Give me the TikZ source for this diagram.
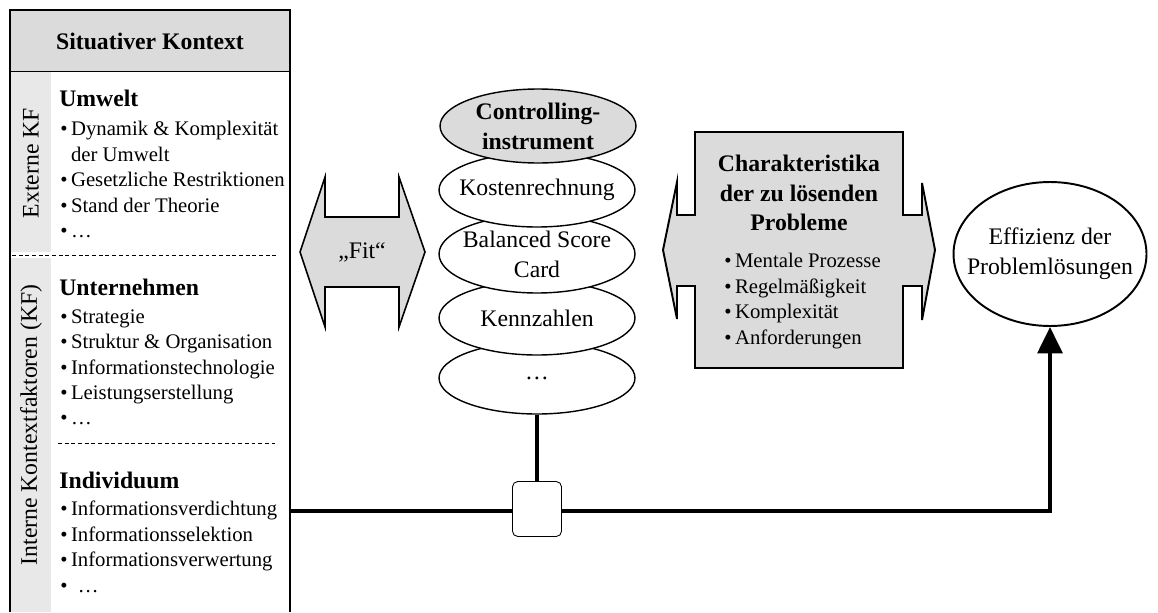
\documentclass[tikz,border=0pt]{standalone}
\usepackage{fontspec}
\setmainfont{Liberation Serif}
\usetikzlibrary{positioning,shapes.geometric,arrows.meta}
\definecolor{boxgray}{RGB}{219,219,219}
\definecolor{stripgray}{RGB}{232,232,232}
\newcommand{\bigtxt}{\fontsize{13.5}{17}\selectfont}
\newcommand{\smalltxt}{\fontsize{11.8}{14.5}\selectfont}
\newcommand{\pkt}{\textbullet\,}
\tikzset{
 head/.style={font=\bigtxt\bfseries,inner sep=0pt,anchor=west},
 itemlist/.style={font=\smalltxt,align=left,inner sep=0pt,anchor=north west},
 instr/.style={ellipse,draw,fill=white,line width=0.8pt,minimum width=3.92cm,minimum height=1.48cm,font=\bigtxt,align=center,inner ysep=0pt,inner xsep=-8pt},
 heavy/.style={line width=2.4pt},
}
\begin{document}
\begin{tikzpicture}[x=0.02cm,y=-0.02cm]
\useasboundingbox (0,0) rectangle (1158,612);
%left panel
\fill[stripgray](10,71) rectangle (51,252);
\fill[stripgray](10,258) rectangle (51,612);
\fill[boxgray](10,10) rectangle (290,71);
\draw(10,71)--(290,71);
\draw[line width=0.8pt](10,612)--(10,10)--(290,10);
\draw[line width=1.7pt](290,9.3)--(290,612);
\draw[dashed,dash pattern=on 2.2pt off 1.6pt](12,255)--(277,255);
\draw[dashed,dash pattern=on 2.2pt off 1.6pt](58,443)--(275,443);
\node (sitkon) at (150,41) {\bigtxt\bfseries Situativer Kontext};
\node[rotate=90] (extkf) at (31,163) {\bigtxt Externe KF};
\node[rotate=90] (intkf) at (31,425) {\bigtxt Interne Kontextfaktoren (KF)};
%umwelt
\node[head] (umwelt) at (59,98) {Umwelt};
\node[itemlist] (umwlist) at (60,121) {\pkt Dynamik \& Komplexität\\ \phantom{\pkt}der Umwelt\\ \pkt Gesetzliche Restriktionen\\ \pkt Stand der Theorie\\ \pkt\ldots};
%unternehmen
\node[head] (untern) at (59,287) {Unternehmen};
\node[itemlist] (untlist) at (60,309) {\pkt Strategie\\ \pkt Struktur \& Organisation\\ \pkt Informationstechnologie\\ \pkt Leistungserstellung\\ \pkt\ldots};
%individuum
\node[head] (indiv) at (59,480) {Individuum};
\node[itemlist] (indlist) at (60,501) {\pkt Informationsverdichtung\\ \pkt Informationsselektion\\ \pkt Informationsverwertung\\ \textbullet\ \ \ldots};
%fit arrow
\filldraw[fill=boxgray,line width=0.9pt](300,252)--(325,177)--(325,217)--(399,217)--(399,177)--(425,252)--(399,327)--(399,287)--(325,287)--(325,327)--cycle;
\node (fit) at (362,252) {\bigtxt „Fit“};
%instruments, bottom first
\node[instr,minimum height=1.44cm] (dots) at (537,378) {\ldots};
\node[instr] (kennz) at (537,318) {Kennzahlen};
\node[instr,minimum height=1.56cm] (bsc) at (537,254) {Balanced Score\\Card};
\node[instr] (kosten) at (537,190) {Kostenrechnung};
\node[instr,fill=boxgray,font=\bigtxt\bfseries] (contr) at (538,126) {Controlling-\\instrument};
%charakteristika
\filldraw[fill=boxgray,line width=1.1pt](663,250)--(677,182)--(677,215)--(695,215)--(695,132)--(903,132)--(903,215)--(922,215)--(922,183)--(935,250)--(922,320)--(922,286)--(903,286)--(903,368)--(695,368)--(695,286)--(677,286)--(677,319)--cycle;
\node[align=center,font=\bigtxt\bfseries,inner sep=0pt] (charak) at (799,193) {Charakteristika\\der zu lösenden\\Probleme};
\node[itemlist] (charlist) at (724,253) {\pkt Mentale Prozesse\\ \pkt Regelmäßigkeit\\ \pkt Komplexität\\ \pkt Anforderungen};
%effizienz
\node[ellipse,draw,line width=1.1pt,minimum width=3.86cm,minimum height=2.88cm,align=center,font=\bigtxt,inner ysep=0pt,inner xsep=-12pt] (effiz) at (1050,254) {Effizienz der\\Problemlösungen};
%connectors
\coordinate (panelout) at (290,511);
\node[draw,fill=white,rounded corners=3pt,minimum width=0.98cm,minimum height=1.1cm,inner sep=0pt,line width=0.5pt] (knot) at (537,509) {};
\draw[heavy](dots.south)--(knot.north);
\draw[heavy](panelout)--(panelout-|knot.west);
\draw[heavy,-{Triangle[width=14pt,length=15pt]}](panelout-|knot.east)-|(effiz.south);
\end{tikzpicture}
\end{document}
